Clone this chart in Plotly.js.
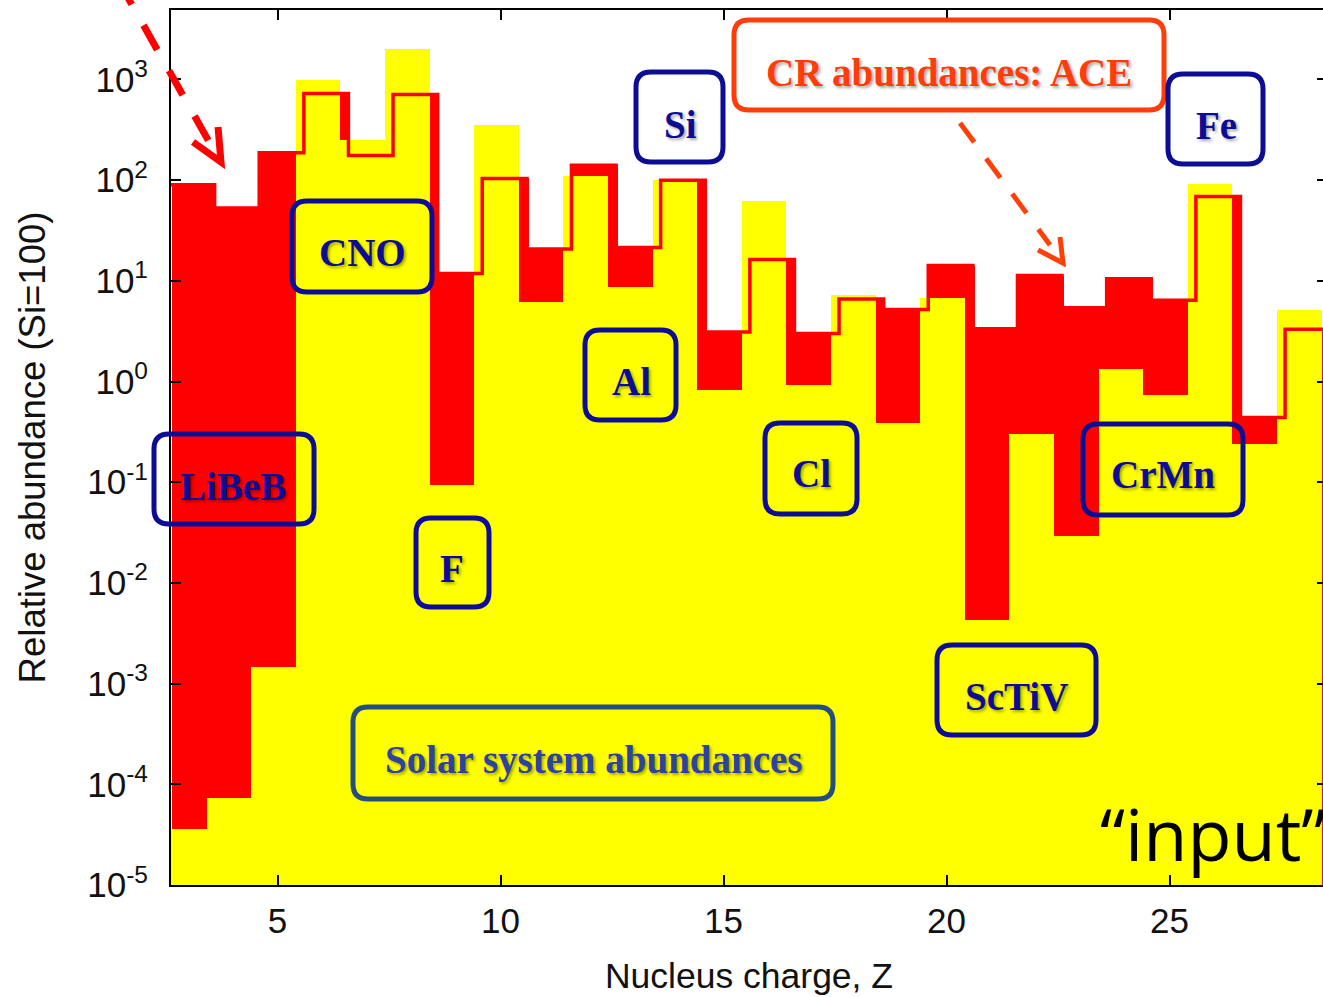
<!DOCTYPE html>
<html>
<head>
<meta charset="utf-8">
<script src="https://cdn.plot.ly/plotly-3.0.1.min.js"></script>
<style>
html, body { margin: 0; padding: 0; overflow: hidden; background: #fff; }
#chart { width: 1340px; height: 997px; }
</style>
</head>
<body>
<div id="chart"></div>
<script>
// ---- data ----
const elements = ["Li","Be","B","C","N","O","F","Ne","Na","Mg","Al","Si","P","S","Cl","Ar","K","Ca","Sc","Ti","V","Cr","Mn","Fe","Co","Ni"];
const Z = [3,4,5,6,7,8,9,10,11,12,13,14,15,16,17,18,19,20,21,22,23,24,25,26,27,28];
// Solar system abundances (Si = 100)
const solar = [3.6e-5, 7.3e-5, 1.46e-3, 980, 248, 1990, 0.094, 357, 6.2, 111, 8.7, 100, 0.83, 62, 0.93, 7.3, 0.39, 6.8, 0.0043, 0.30, 0.029, 1.34, 0.73, 92, 0.24, 5.1];
// Cosmic-ray abundances, ACE (Si = 100)
const cr = [90, 53, 187, 726, 176, 708, 11.8, 104, 20.7, 141, 21.5, 100, 3.1, 16.3, 3.0, 6.6, 5.2, 14.2, 3.35, 11.3, 5.4, 10.5, 6.4, 69, 0.44, 3.3];
const xTickVals = [5, 10, 15, 20, 25];
const yTickVals = [1e-5, 1e-4, 1e-3, 1e-2, 1e-1, 1e0, 1e1, 1e2, 1e3];
const yTickText = ["10<sup>-5</sup>","10<sup>-4</sup>","10<sup>-3</sup>","10<sup>-2</sup>","10<sup>-1</sup>","10<sup>0</sup>","10<sup>1</sup>","10<sup>2</sup>","10<sup>3</sup>"];

// ---- layout geometry (pixels) ----
const W = 1340, H = 997;
const M = {l: 171, r: 13, t: 10, b: 112};
const PW = W - M.l - M.r, PH = H - M.t - M.b;
const px = x => (x - M.l) / PW;
const py = y => (H - M.b - y) / PH;

function roundRect(x0, y0, x1, y1, r) {
  const P = (x, y) => px(x).toFixed(5) + ',' + py(y).toFixed(5);
  return 'M' + P(x0 + r, y0) + ' L' + P(x1 - r, y0) + ' Q' + P(x1, y0) + ' ' + P(x1, y0 + r) +
         ' L' + P(x1, y1 - r) + ' Q' + P(x1, y1) + ' ' + P(x1 - r, y1) +
         ' L' + P(x0 + r, y1) + ' Q' + P(x0, y1) + ' ' + P(x0, y1 - r) +
         ' L' + P(x0, y0 + r) + ' Q' + P(x0, y0) + ' ' + P(x0 + r, y0) + ' Z';
}

const navy = '#0c0c94';
const boxes = [
  {t: 'LiBeB', b: [154, 434, 314, 524], c: [233, 486], col: navy, tc: navy},
  {t: 'CNO', b: [292, 201, 432, 292], c: [362, 252], col: navy, tc: navy},
  {t: 'F', b: [416, 518, 489, 607], c: [452, 568], col: navy, tc: navy},
  {t: 'Al', b: [585, 330, 676, 420], c: [631, 381], col: navy, tc: navy},
  {t: 'Si', b: [636, 72, 723, 162], c: [680, 124], col: navy, tc: navy},
  {t: 'Cl', b: [765, 423, 857, 514], c: [811, 474], col: navy, tc: navy},
  {t: 'CR abundances: ACE', b: [734, 20, 1164, 110], c: [949, 73], col: '#ff3c0a', tc: '#ff3c0a'},
  {t: 'Fe', b: [1168, 74, 1263, 164], c: [1216, 126], col: navy, tc: navy},
  {t: 'CrMn', b: [1083, 424, 1243, 515], c: [1163, 475], col: navy, tc: navy},
  {t: 'ScTiV', b: [937, 645, 1096, 735], c: [1016, 696], col: navy, tc: navy},
  {t: 'Solar system abundances', b: [353, 707, 833, 799], c: [594, 760], col: '#244e7e', tc: '#2d43a0'}
];

const shapes = [];
const annotations = [];
boxes.forEach(bx => {
  shapes.push({type: 'path', xref: 'paper', yref: 'paper', path: roundRect(bx.b[0], bx.b[1], bx.b[2], bx.b[3], 15),
               line: {color: bx.col, width: 5}, fillcolor: 'rgba(0,0,0,0)', layer: 'above'});
  annotations.push({xref: 'paper', yref: 'paper', x: px(bx.c[0]), y: py(bx.c[1]), xanchor: 'center', yanchor: 'middle',
                    text: '<b>' + bx.t + '</b>', showarrow: false,
                    font: {family: 'Liberation Serif, Times New Roman, serif', size: 39, color: bx.tc,
                           shadow: '2px 2px 3px rgba(0,0,0,0.35)'}});
});

function seg(x0, y0, x1, y1, color, width, dash) {
  const s = {type: 'line', xref: 'paper', yref: 'paper', x0: px(x0), y0: py(y0), x1: px(x1), y1: py(y1),
             line: {color: color, width: width}, layer: 'above'};
  if (dash) s.line.dash = dash;
  return s;
}
function poly(pts, color, width) {
  return {type: 'path', xref: 'paper', yref: 'paper', layer: 'above',
          path: pts.map((p, i) => (i ? 'L' : 'M') + px(p[0]).toFixed(5) + ',' + py(p[1]).toFixed(5)).join(' '),
          line: {color: color, width: width}};
}
// red dashed arrow (top left)
shapes.push(seg(118, -20, 212, 147, '#ff0000', 7, '28px,24px'));
shapes.push(poly([[218, 127], [221, 162], [193, 142]], '#ff0000', 7));
// orange dashed arrow (from CR box)
shapes.push(seg(960, 123, 1050, 245, '#ff4008', 5, '24px,20px'));
shapes.push(poly([[1060, 237], [1063, 263], [1038, 250]], '#ff4008', 5));

annotations.push({xref: 'paper', yref: 'paper', x: px(1098), y: py(833), xanchor: 'left', yanchor: 'middle',
                  text: '\u201Cinput\u201D', showarrow: false,
                  font: {family: 'Open Sans, sans-serif', size: 72, color: '#000'}});

// ---- traces ----
const crBars = {type: 'bar', x: Z, y: cr, width: 1, offset: -0.37, marker: {color: '#ff0000', line: {width: 0}},
                hoverinfo: 'skip', showlegend: false};
const solarBars = {type: 'bar', x: Z, y: solar, width: 1, offset: -0.59, marker: {color: '#ffff00', line: {width: 0}},
                   hoverinfo: 'skip', showlegend: false};
const stepX = Z.map(z => z - 0.41).concat([Z[Z.length - 1] + 0.59]);
const stepY = cr.concat([cr[cr.length - 1]]);
const crStep = {type: 'scatter', mode: 'lines', x: stepX, y: stepY, line: {shape: 'hv', color: '#ff0000', width: 3.5},
                hoverinfo: 'skip', showlegend: false};

const tickFont = {family: 'Liberation Sans, Arial, sans-serif', size: 35, color: '#111'};
const layout = {
  width: W, height: H,
  margin: {l: M.l, r: M.r, t: M.t, b: M.b, pad: 0},
  paper_bgcolor: '#fff', plot_bgcolor: '#fff',
  barmode: 'overlay', bargap: 0,
  showlegend: false,
  xaxis: {
    range: [2.612, 28.53], tickmode: 'array', tickvals: xTickVals, ticktext: xTickVals.map(String),
    ticks: 'inside', ticklen: 10, tickwidth: 2, tickcolor: '#000',
    showline: true, linecolor: '#000', linewidth: 2, mirror: 'ticks',
    showgrid: false, zeroline: false, layer: 'above traces',
    tickfont: tickFont, ticklabelstandoff: 4,
    title: {text: 'Nucleus charge, Z', font: {family: 'Liberation Sans, Arial, sans-serif', size: 35.5, color: '#111'}, standoff: 24}
  },
  yaxis: {
    type: 'log', range: [-5, 3.69], tickmode: 'array', tickvals: yTickVals, ticktext: yTickText,
    ticks: 'inside', ticklen: 10, tickwidth: 2, tickcolor: '#000',
    showline: true, linecolor: '#000', linewidth: 2, mirror: 'ticks',
    showgrid: false, zeroline: false, layer: 'above traces',
    tickfont: tickFont, ticklabelstandoff: 14,
    title: {text: 'Relative abundance (Si=100)', font: {family: 'Liberation Sans, Arial, sans-serif', size: 36.5, color: '#111'}, standoff: 30}
  },
  shapes: shapes,
  annotations: annotations
};

Plotly.newPlot('chart', [crBars, solarBars, crStep], layout, {displayModeBar: false, staticPlot: true});
</script>
</body>
</html>
